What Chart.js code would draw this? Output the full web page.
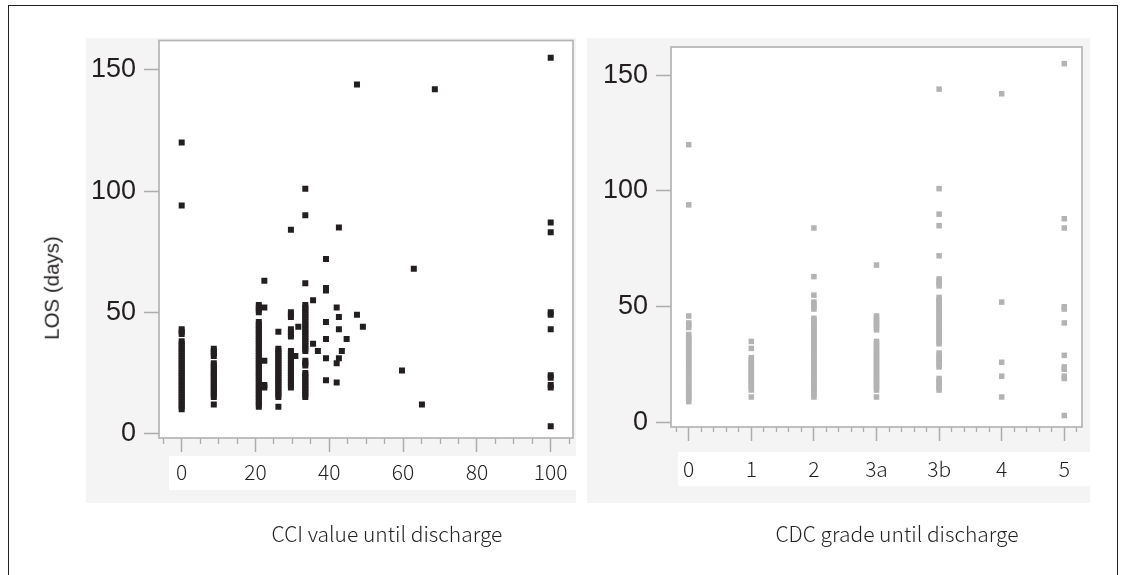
<!DOCTYPE html>
<html><head><meta charset="utf-8">
<script src="https://cdn.jsdelivr.net/npm/chart.js@4.4.0/dist/chart.umd.min.js"></script>
<style>
html,body{margin:0;padding:0;background:#fff;}
body{width:1125px;height:575px;position:relative;overflow:hidden;}
.frame{position:absolute;left:8px;top:5px;width:1110px;height:640px;border:1.5px solid #231f20;box-sizing:border-box;}
.panel{position:absolute;background:#f4f4f4;}
.strip{position:absolute;background:#fff;}
canvas{position:absolute;top:0;}
.title{position:absolute;font-family:"Noto Sans CJK JP","Noto Sans",sans-serif;font-weight:300;font-size:21px;color:#231f20;white-space:nowrap;transform:translate(-50%,-50%);line-height:1;}
.ytitle{position:absolute;font-family:"Liberation Sans",Arial,sans-serif;font-size:20.5px;color:#231f20;white-space:nowrap;transform:translate(-50%,-50%) rotate(-90deg);line-height:1;}
</style></head>
<body>
<div class="frame"></div>
<div class="panel" style="left:86px;top:38px;width:490px;height:465px"></div>
<div class="strip" style="left:169px;top:456px;width:407px;height:34px"></div>
<div class="panel" style="left:587px;top:38px;width:503px;height:465px"></div>
<div class="strip" style="left:678px;top:452px;width:412px;height:34px"></div>
<canvas id="c1" width="580" height="575" style="left:0px"></canvas>
<canvas id="c2" width="545" height="575" style="left:580px"></canvas>
<div class="ytitle" style="left:52px;top:288px">LOS (days)</div>
<div class="title" style="left:387px;top:533px">CCI value until discharge</div>
<div class="title" style="left:897px;top:533px">CDC grade until discharge</div>
<script>
// ---- tick labels ----
const losTicks = [0, 50, 100, 150];
const cciTicks = [0, 20, 40, 60, 80, 100];
const cciMinorTicks = [-5, 5, 10, 15, 25, 30, 35, 45, 50, 55, 65, 70, 75, 85, 90, 95, 105];
const cdcGrades = ['0', '1', '2', '3a', '3b', '4', '5'];
const cdcMinorTicks = [-0.2, 0.2, 0.4, 0.6, 0.8, 1.2, 1.4, 1.6, 1.8, 2.2, 2.4, 2.6, 2.8, 3.2, 3.4, 3.6, 3.8, 4.2, 4.4, 4.6, 4.8, 5.2, 5.4, 5.6, 5.8, 6.2];

// ---- left panel: CCI value vs LOS ----
const cciValues = [0, 8.7, 20.9, 22.4, 26.2, 29.6, 30.8, 31.6, 33.5, 35.6, 36.9, 39.1, 42.0, 42.6, 43.4, 44.7, 47.5, 49.1, 59.7, 62.9, 65.1, 68.6, 100];
const losByCci = [
  [10,11,12,13,14,15,16,17,18,19,20,21,22,23,24,25,26,27,28,29,30,31,32,33,34,35,36,37,38,41,42,43,94,120],
  [12,15,16,17,18,19,20,21,22,23,24,25,26,27,28,29,32,33,34,35],
  [11,12,13,14,15,16,17,18,19,20,21,22,23,24,25,26,27,28,29,30,31,32,33,34,35,36,37,38,39,40,41,42,43,44,45,46,50,51,52,53],
  [19,20,30,52,63],
  [11,15,16,17,18,19,20,21,22,23,24,25,26,27,28,29,30,31,32,33,34,35,42],
  [19,20,21,22,23,24,25,26,27,28,29,30,31,32,33,34,40,41,42,43,48,49,50,84],
  [32],
  [44],
  [15,16,17,18,19,20,21,22,23,24,25,28,29,30,34,35,36,37,38,39,40,41,42,43,44,45,46,47,48,49,50,51,52,53,62,90,101],
  [37,55],
  [34],
  [22,31,39,46,59,60,72],
  [21,29,52],
  [31,43,48,85],
  [34],
  [39],
  [49,144],
  [44],
  [26],
  [68],
  [12],
  [142],
  [3,19,20,23,24,43,49,50,83,87,155]
];

// ---- right panel: CDC grade vs LOS ----
const losByCdc = [
  [9,10,11,12,13,14,15,16,17,18,19,20,21,22,23,24,25,26,27,28,29,30,31,32,33,34,35,36,37,38,41,42,43,46,94,120],
  [11,14,15,16,17,18,19,20,21,22,23,24,25,26,27,28,32,35],
  [11,12,13,14,15,16,17,18,19,20,21,22,23,24,25,26,27,28,29,30,31,32,33,34,35,36,37,38,39,40,41,42,43,44,45,49,50,51,52,55,63,84],
  [11,14,15,16,17,18,19,20,21,22,23,24,25,26,27,28,29,30,31,32,33,34,35,40,41,42,43,44,45,46,68],
  [14,15,16,17,18,19,24,25,26,27,28,29,30,34,35,36,37,38,39,40,41,42,43,44,45,46,47,48,49,50,51,52,53,54,59,60,61,62,72,85,90,101,144],
  [11,20,26,52,142],
  [3,19,20,23,24,29,43,49,50,84,88,155]
];

const leftPoints = [];
cciValues.forEach((x, i) => losByCci[i].forEach(y => leftPoints.push({x: x, y: y})));
const rightPoints = [];
cdcGrades.forEach((g, i) => losByCdc[i].forEach(y => rightPoints.push({x: i, y: y})));

const TICK_COLOR = '#acacac';
const plotFrame = {
  id: 'plotFrame',
  beforeDraw(chart) {
    const {ctx, chartArea: a} = chart;
    ctx.save();
    ctx.fillStyle = '#ffffff';
    ctx.fillRect(a.left, a.top, a.right - a.left, a.bottom - a.top);
    ctx.restore();
  },
  beforeDatasetsDraw(chart) {
    const {ctx, chartArea: a} = chart;
    ctx.save();
    ctx.strokeStyle = '#b4b4b4';
    ctx.lineWidth = 1.7;
    ctx.strokeRect(a.left, a.top, a.right - a.left, a.bottom - a.top);
    ctx.restore();
  }
};

function yScale(min, max, width) {
  return {
    type: 'linear', position: 'left', min: min, max: max,
    afterBuildTicks: a => { a.ticks = losTicks.map(v => ({value: v})); },
    afterFit: a => { a.width = width; },
    grid: {drawOnChartArea: false, drawTicks: true, tickLength: 15, tickColor: TICK_COLOR, tickWidth: 1.5},
    border: {display: false},
    ticks: {padding: 8, color: '#231f20', font: {family: "'Liberation Sans', Arial, sans-serif", size: 27}}
  };
}
function xMajor(min, max, height, values, labelFn, pad) {
  return {
    type: 'linear', position: 'bottom', min: min, max: max, weight: 1,
    afterBuildTicks: a => { a.ticks = values.map(v => ({value: v})); },
    afterFit: a => { a.height = height; },
    grid: {drawOnChartArea: false, drawTicks: true, tickLength: 14, tickColor: TICK_COLOR, tickWidth: 1.5},
    border: {display: false},
    ticks: {padding: pad, maxRotation: 0, autoSkip: false, color: '#231f20',
      font: {family: "'Noto Sans CJK JP', 'Noto Sans', sans-serif", size: 21, weight: 300},
      callback: labelFn}
  };
}
function xMinor(min, max, values, len) {
  return {
    type: 'linear', position: 'bottom', min: min, max: max, weight: 0,
    afterBuildTicks: a => { a.ticks = values.map(v => ({value: v})); },
    afterFit: a => { a.height = 0; },
    grid: {drawOnChartArea: false, drawTicks: true, tickLength: len, tickColor: TICK_COLOR, tickWidth: 1.3},
    border: {display: false},
    ticks: {display: false}
  };
}

const common = {
  responsive: false, animation: false, devicePixelRatio: 1, events: [],
  plugins: {legend: {display: false}, tooltip: {enabled: false}, title: {display: false}}
};

new Chart(document.getElementById('c1'), {
  type: 'scatter',
  data: {datasets: [{data: leftPoints, xAxisID: 'x', yAxisID: 'y',
    pointStyle: 'rect', pointRadius: 4.24, borderWidth: 0, backgroundColor: '#231f20', borderColor: '#231f20'}]},
  options: Object.assign({}, common, {
    layout: {padding: {left: 0, top: 40.5, right: 7, bottom: 0}},
    scales: {
      x: xMajor(-6.15, 106.04, 137, cciTicks, (v) => String(v), 7),
      xm: xMinor(-6.15, 106.04, cciMinorTicks, 6),
      y: yScale(-1.86, 162.1, 159)
    }
  }),
  plugins: [plotFrame]
});

new Chart(document.getElementById('c2'), {
  type: 'scatter',
  data: {datasets: [{data: rightPoints, xAxisID: 'x', yAxisID: 'y',
    pointStyle: 'rect', pointRadius: 3.9, borderWidth: 0, backgroundColor: '#b3b3b5', borderColor: '#b3b3b5'}]},
  options: Object.assign({}, common, {
    layout: {padding: {left: 0, top: 47, right: 43, bottom: 0}},
    scales: {
      x: xMajor(-0.283, 6.283, 148, [0, 1, 2, 3, 4, 5, 6], (v, i) => cdcGrades[i], 15),
      xm: xMinor(-0.283, 6.283, cdcMinorTicks, 5),
      y: yScale(-1.96, 162.2, 91)
    }
  }),
  plugins: [plotFrame]
});
</script>
</body></html>
